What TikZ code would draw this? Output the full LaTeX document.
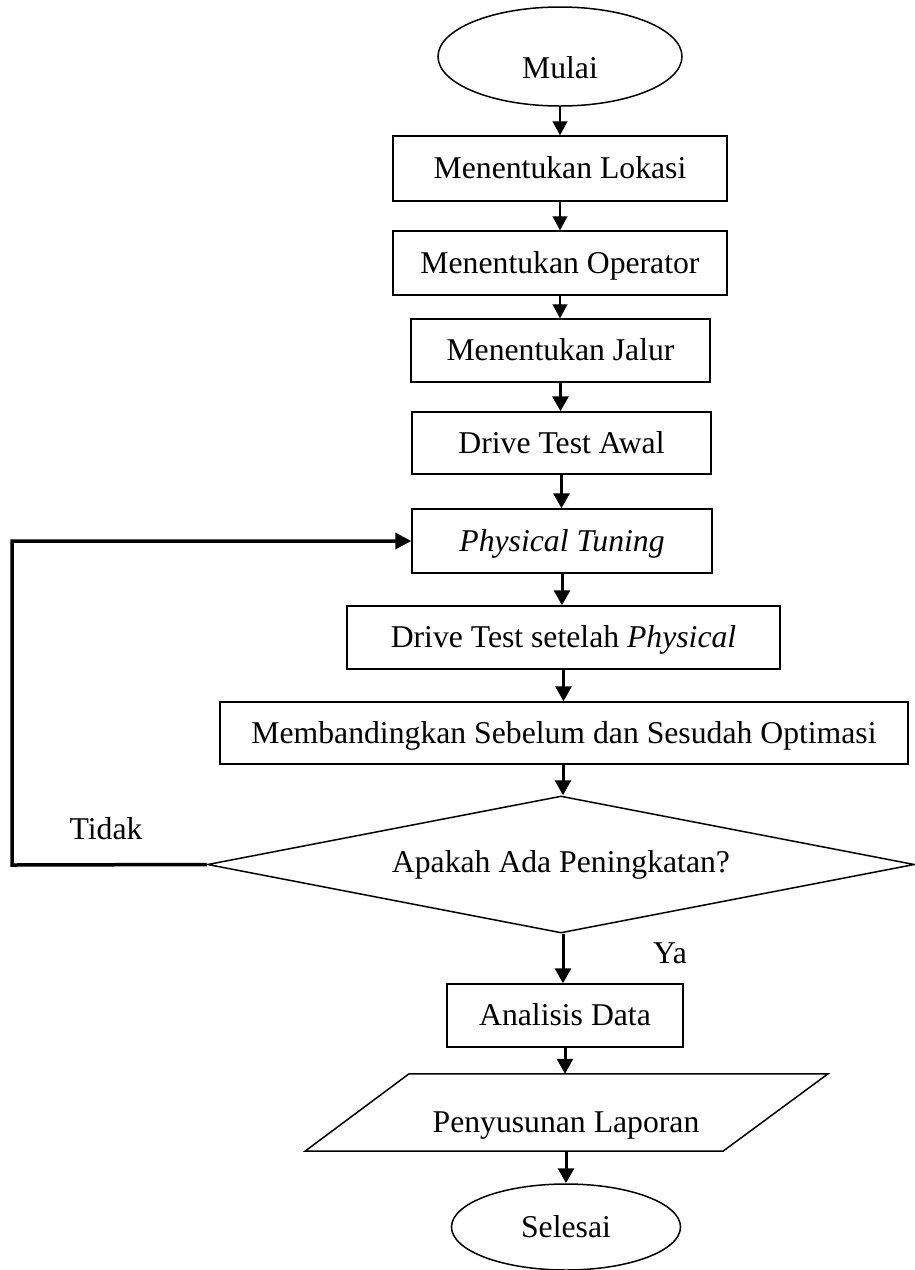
\documentclass[tikz,border=0pt]{standalone}
\usepackage{fontspec}
\setmainfont{Liberation Serif}
\usetikzlibrary{shapes.geometric,arrows.meta}
\begin{document}
\begin{tikzpicture}[x=1pt,y=-1pt,
  font=\fontsize{31.7}{38}\selectfont,
  box/.style={draw,line width=1.5pt,inner sep=0pt,text height=20pt,text depth=0pt},
  term/.style={draw,ellipse,line width=1.5pt,inner sep=0pt},
  tarr/.style={line width=1.3pt,-{Triangle[length=14pt,width=15pt]}},
  karr/.style={line width=3pt,-{Triangle[length=15pt,width=16pt]}},
  lbl/.style={anchor=base,inner sep=0pt}]
\useasboundingbox (0,0) rectangle (914,1270);

\node[term,minimum width=244pt,minimum height=99pt,text height=43pt,text depth=0pt] (mulai) at (560,56.5) {Mulai};
\node[box,minimum width=334pt,minimum height=65pt] (lok) at (560,168.5) {Menentukan Lokasi};
\node[box,minimum width=334pt,minimum height=64pt] (opr) at (560,263) {Menentukan Operator};
\node[box,minimum width=299pt,minimum height=63pt] (jal) at (560.5,350.5) {Menentukan Jalur};
\node[box,minimum width=299pt,minimum height=62pt] (dta) at (561.5,443) {Drive Test Awal};
\node[box,minimum width=300pt,minimum height=64pt] (tun) at (562,541) {\textit{Physical Tuning}};
\node[box,minimum width=433pt,minimum height=63pt] (dts) at (563.5,637.5) {Drive Test setelah \textit{Physical}};
\node[box,minimum width=688pt,minimum height=62pt] (cmp) at (564,733) {Membandingkan Sebelum dan Sesudah Optimasi};
\node[draw,diamond,aspect=5.16,minimum width=707pt,minimum height=137pt,inner sep=0pt,line width=1.5pt] (dec) at (561,864.5) {Apakah Ada Peningkatan?};
\node[box,minimum width=236pt,minimum height=63pt] (ana) at (565,1015.5) {Analisis Data};
\node[inner sep=0pt,minimum width=300pt,minimum height=77pt,text height=40pt,text depth=0pt] (lap) at (566,1112.5) {Penyusunan Laporan};
\draw[line width=1.5pt,line join=miter] ([xshift=-157pt]lap.north) -- ([xshift=262pt]lap.north) -- ([xshift=157pt]lap.south) -- ([xshift=-261pt]lap.south) -- cycle;
\node[term,minimum width=229pt,minimum height=86pt] (sel) at (566,1227) {Selesai};

\node[lbl] (tidak) at (106,839) {Tidak};
\node[lbl] (ya) at (670,963) {Ya};

\draw[tarr] (mulai.south) -- (mulai.south |- lok.north);
\draw[tarr] (lok.south) -- (lok.south |- opr.north);
\draw[tarr] (opr.south) -- (opr.south |- jal.north);
\draw[karr] (jal.south) -- (jal.south |- dta.north);
\draw[karr] (dta.south) -- (dta.south |- tun.north);
\draw[karr] (tun.south) -- (tun.south |- dts.north);
\draw[karr] (dts.south) -- (dts.south |- cmp.north);
\draw[karr] (cmp.south -| dec.north) ++(2pt,0) coordinate (c1) -- (c1 |- dec.north);
\draw[karr] (dec.south) ++(2pt,0) coordinate (c2) -- (c2 |- ana.north);
\draw[karr] (ana.south) -- (ana.south |- lap.north);
\draw[karr] (lap.south) -- (lap.south |- sel.north);

\coordinate (lp) at (12,865);
\draw[line width=3.5pt,line join=miter,-{Triangle[length=16pt,width=16pt]}] (dec.west) -- (lp) |- (tun.west);
\end{tikzpicture}
\end{document}
